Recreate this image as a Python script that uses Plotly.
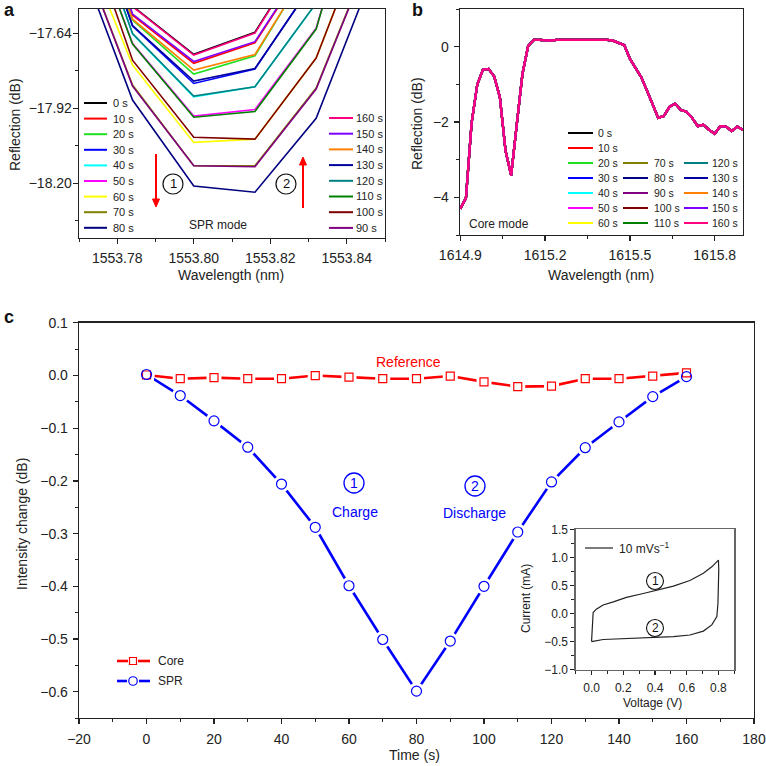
import plotly.graph_objects as go

# ---------------- data ----------------
TIMES = ["0 s", "10 s", "20 s", "30 s", "40 s", "50 s", "60 s", "70 s", "80 s",
         "90 s", "100 s", "110 s", "120 s", "130 s", "140 s", "150 s", "160 s"]
COLORS = ["#000000", "#ff0000", "#1fe01f", "#0000ff", "#00ffff", "#ff00ff", "#ffff00",
          "#808000", "#000080", "#800080", "#800000", "#008000", "#008080", "#0000a0",
          "#ff8000", "#8000ff", "#ff0080"]

# panel a: SPR mode (wavelength nm, reflection dB)
WL_A = [1553.768, 1553.784, 1553.800, 1553.816, 1553.832, 1553.848]
R_0S = [-16.844, -17.538, -17.718, -17.636, -17.273, -16.900]
R_10S = [-16.881, -17.572, -17.752, -17.675, -17.325, -16.956]
R_20S = [-16.918, -17.590, -17.792, -17.724, -17.348, -16.974]
R_30S = [-16.956, -17.613, -17.827, -17.773, -17.433, -17.060]
R_40S = [-16.993, -17.643, -17.877, -17.839, -17.528, -17.153]
R_50S = [-17.064, -17.678, -17.949, -17.924, -17.621, -16.840]
R_60S = [-17.195, -17.758, -18.047, -18.035, -17.732, -17.139]
R_70S = [-17.239, -17.833, -18.134, -18.134, -17.844, -17.280]
R_80S = [-17.280, -17.889, -18.210, -18.233, -17.957, -17.374]
R_90S = [-17.239, -17.837, -18.134, -18.138, -17.848, -17.284]
R_100S = [-17.083, -17.740, -18.028, -18.035, -17.732, -17.142]
R_110S = [-17.064, -17.680, -17.953, -17.932, -17.624, -16.844]
R_120S = [-16.993, -17.641, -17.874, -17.839, -17.527, -17.153]
R_130S = [-16.956, -17.611, -17.818, -17.771, -17.437, -17.060]
R_140S = [-16.918, -17.587, -17.777, -17.719, -17.351, -16.974]
R_150S = [-16.881, -17.568, -17.745, -17.671, -17.321, -16.956]
R_160S = [-16.844, -17.540, -17.721, -17.639, -17.277, -16.900]
REFL_A = [R_0S, R_10S, R_20S, R_30S, R_40S, R_50S, R_60S, R_70S, R_80S,
          R_90S, R_100S, R_110S, R_120S, R_130S, R_140S, R_150S, R_160S]

# panel b: core mode (all time steps overlap)
WL_B = [1614.90, 1614.92, 1614.94, 1614.96, 1614.98, 1615.00, 1615.02, 1615.04, 1615.06,
        1615.08, 1615.10, 1615.12, 1615.14, 1615.16, 1615.18, 1615.20, 1615.22, 1615.24,
        1615.26, 1615.28, 1615.30, 1615.32, 1615.34, 1615.36, 1615.38, 1615.40, 1615.42,
        1615.44, 1615.46, 1615.48, 1615.50, 1615.52, 1615.54, 1615.56, 1615.58, 1615.60,
        1615.62, 1615.64, 1615.66, 1615.68, 1615.70, 1615.72, 1615.74, 1615.76, 1615.78,
        1615.80, 1615.82, 1615.84, 1615.86, 1615.88, 1615.90]
REFL_B = [-4.30, -4.02, -2.03, -1.01, -0.61, -0.59, -0.79, -1.34, -2.76,
          -3.42, -2.05, -0.72, 0.02, 0.18, 0.18, 0.17, 0.16, 0.18,
          0.18, 0.18, 0.17, 0.18, 0.19, 0.18, 0.18, 0.18, 0.18,
          0.16, 0.11, 0.04, -0.32, -0.57, -0.81, -1.16, -1.51, -1.89,
          -1.84, -1.60, -1.51, -1.68, -1.73, -1.89, -2.11, -2.07, -2.21,
          -2.31, -2.11, -2.12, -2.24, -2.12, -2.21]

# panel c: intensity change vs time
T_C = [0, 10, 20, 30, 40, 50, 60, 70, 80, 90, 100, 110, 120, 130, 140, 150, 160]
CORE_C = [0.001, -0.006, -0.004, -0.006, -0.006, 0.000, -0.003, -0.006, -0.006,
          -0.001, -0.012, -0.021, -0.020, -0.006, -0.006, -0.001, 0.005]
SPR_C = [0.002, -0.038, -0.086, -0.136, -0.206, -0.288, -0.399, -0.501, -0.599,
         -0.504, -0.400, -0.297, -0.202, -0.137, -0.088, -0.040, -0.002]

# inset: cyclic voltammogram
V_CV = [0.000, 0.004, 0.010, 0.030, 0.073, 0.137, 0.220, 0.326, 0.410, 0.516, 0.620,
        0.705, 0.758, 0.800, 0.802, 0.801, 0.797, 0.790, 0.758, 0.705, 0.620, 0.516,
        0.410, 0.220, 0.073, 0.000]
I_CV = [-0.497, -0.110, 0.020, 0.080, 0.155, 0.210, 0.290, 0.360, 0.420, 0.490, 0.590,
        0.720, 0.835, 0.955, 0.780, 0.480, 0.185, -0.050, -0.200, -0.310, -0.380, -0.410,
        -0.420, -0.440, -0.460, -0.497]

# ---------------- layout helpers ----------------
W = H = 766
FONT = "Liberation Sans, Arial, Helvetica, sans-serif"
INK = "#222222"


def px(x):
    return x / W


def py(y):
    return 1 - y / H


ann = []
shapes = []


def text(x, y, s, size=14, color=INK, xanchor="center", yanchor="middle", bold=False, angle=0):
    if bold:
        s = "<b>" + s + "</b>"
    ann.append(dict(x=px(x), y=py(y), xref="paper", yref="paper", text=s, showarrow=False,
                    font=dict(family=FONT, size=size, color=color), xanchor=xanchor,
                    yanchor=yanchor, textangle=angle, borderpad=0))


def hline(x0, x1, y, color, width):
    shapes.append(dict(type="line", xref="paper", yref="paper", x0=px(x0), x1=px(x1),
                       y0=py(y), y1=py(y), line=dict(color=color, width=width)))


def vline(x, y0, y1, color, width):
    shapes.append(dict(type="line", xref="paper", yref="paper", x0=px(x), x1=px(x),
                       y0=py(y0), y1=py(y1), line=dict(color=color, width=width)))


def circle(x, y, d, color, width=1.2, kind="circle"):
    shapes.append(dict(type=kind, xref="paper", yref="paper", xsizemode="pixel", ysizemode="pixel",
                       xanchor=px(x), yanchor=py(y), x0=-d / 2, x1=d / 2, y0=-d / 2, y1=d / 2,
                       line=dict(color=color, width=width), fillcolor="white"))


def arrow(x, yhead, ytail, color):
    # shaft + triangular head, all in paper coordinates
    sgn = 1 if yhead > ytail else -1
    hl, hw = 8, 3.5
    vline(x, ytail, yhead - sgn * hl, color, 2)
    path = "M {:.5f},{:.5f} L {:.5f},{:.5f} L {:.5f},{:.5f} Z".format(
        px(x), py(yhead), px(x - hw), py(yhead - sgn * hl), px(x + hw), py(yhead - sgn * hl))
    shapes.append(dict(type="path", xref="paper", yref="paper", path=path,
                       fillcolor=color, line=dict(color=color, width=1)))


fig = go.Figure()

# panel a traces
for name, col, ys in zip(TIMES, COLORS, REFL_A):
    fig.add_trace(go.Scatter(x=WL_A, y=ys, mode="lines", name=name,
                             line=dict(color=col, width=1.6), xaxis="x", yaxis="y"))
# panel b traces
for name, col in zip(TIMES, COLORS):
    fig.add_trace(go.Scatter(x=WL_B, y=REFL_B, mode="lines", name=name,
                             line=dict(color=col, width=2.2), xaxis="x2", yaxis="y2"))
# panel c traces
RED, BLUE = "#ff0000", "#0000ff"
fig.add_trace(go.Scatter(x=T_C, y=CORE_C, mode="lines", line=dict(color=RED, width=2.6),
                         xaxis="x3", yaxis="y3"))
fig.add_trace(go.Scatter(x=T_C, y=SPR_C, mode="lines", line=dict(color=BLUE, width=2.6),
                         xaxis="x3", yaxis="y3"))
fig.add_trace(go.Scatter(x=T_C, y=CORE_C, mode="markers",
                         marker=dict(symbol="square", size=15, color="white"),
                         xaxis="x3", yaxis="y3"))
fig.add_trace(go.Scatter(x=T_C, y=SPR_C, mode="markers",
                         marker=dict(symbol="circle", size=17, color="white"),
                         xaxis="x3", yaxis="y3"))
fig.add_trace(go.Scatter(x=T_C, y=CORE_C, mode="markers", name="Core",
                         marker=dict(symbol="square-open", size=8, color=RED, line=dict(width=1.2)),
                         xaxis="x3", yaxis="y3"))
fig.add_trace(go.Scatter(x=T_C, y=SPR_C, mode="markers", name="SPR",
                         marker=dict(symbol="circle-open", size=10, color=BLUE, line=dict(width=1.2)),
                         xaxis="x3", yaxis="y3"))
# inset
fig.add_trace(go.Scatter(x=V_CV, y=I_CV, mode="lines", line=dict(color=INK, width=1.2),
                         xaxis="x4", yaxis="y4"))


def axis(domain, rng, dtick, tick0, minor_dtick, fmt=None, size=14, anchor=None, linecolor=INK,
         ticklen=5, standoff=0):
    d = dict(domain=domain, range=rng, dtick=dtick, tick0=tick0, tickmode="linear",
             showline=True, mirror=True, linecolor=linecolor, linewidth=1.3,
             ticks="outside", ticklen=ticklen, tickwidth=1.2, tickcolor=INK,
             showgrid=False, zeroline=False, tickfont=dict(family=FONT, size=size, color=INK),
             minor=dict(ticks="outside", ticklen=3, tickwidth=1, tickcolor=INK,
                        dtick=minor_dtick, tick0=tick0, showgrid=False),
             anchor=anchor, fixedrange=True, automargin=False, ticklabelstandoff=standoff)
    if fmt:
        d["tickformat"] = fmt
    return d


layout = dict(
    width=W, height=H, margin=dict(l=0, r=0, t=0, b=0, autoexpand=False), showlegend=False,
    paper_bgcolor="white", plot_bgcolor="white", font=dict(family=FONT, color=INK),
    hovermode=False,
    xaxis=axis([px(79), px(385)], [1553.77, 1553.85], 0.02, 1553.78, 0.01, ".2f", anchor="y",
               standoff=2),
    yaxis=axis([py(238), py(9)], [-18.404, -17.549], 0.28, -17.64, 0.14, ".2f", anchor="x",
               standoff=-2),
    xaxis2=axis([px(460), px(743)], [1614.899, 1615.9], 0.3, 1614.9, 0.15, ".1f", anchor="y2",
                standoff=2),
    yaxis2=axis([py(235), py(9)], [-5, 1], 2, 0, 1, anchor="x2", standoff=2),
    xaxis3=axis([px(79), px(754)], [-20, 180], 20, 0, 10, anchor="y3", standoff=3),
    yaxis3=axis([py(718), py(322.7)], [-0.65, 0.1003], 0.1, 0, 0.05, ".1f", anchor="x3",
                standoff=2),
    xaxis4=axis([px(575.7), px(734.3)], [-0.1, 0.9], 0.2, 0, 0.1, ".1f", size=12, anchor="y4",
                linecolor="#666666", ticklen=4, standoff=2),
    yaxis4=axis([py(670), py(529.3)], [-1.003, 1.503], 0.5, 0, 0.25, ".1f", size=12, anchor="x4",
                linecolor="#666666", ticklen=4),
)

# ---------- panel labels ----------
text(3, 10, "a", 18, "#111", xanchor="left", bold=True)
text(411, 10, "b", 18, "#111", xanchor="left", bold=True)
text(3, 317, "c", 18, "#111", xanchor="left", bold=True)

# ---------- axis titles ----------
text(231, 275, "Wavelength (nm)")
text(15, 125, "Reflection (dB)", angle=-90)
text(601, 275, "Wavelength (nm)")
text(417, 124, "Reflection (dB)", angle=-90)
text(414, 755, "Time (s)")
text(22, 524, "Intensity change (dB)", angle=-90)
text(652, 703, "Voltage (V)", 12)
text(526, 599, "Current (mA)", 12, angle=-90)

# ---------- panel a legend & marks ----------
for i in range(9):
    y = 103 + 15.6 * i
    hline(84, 107, y, COLORS[i], 2)
    text(112, y, TIMES[i], 11, xanchor="left")
for k, i in enumerate(range(16, 8, -1)):
    y = 118 + 15.7 * k
    hline(329, 353, y, COLORS[i], 2)
    text(355, y, TIMES[i], 11, xanchor="left")
arrow(156, 207, 154, RED)
arrow(303, 157, 208, RED)
circle(173, 184, 20, "#111", 1.2)
text(173, 184, "1", 13, "#111")
circle(286, 184, 20, "#111", 1.2)
text(286, 184, "2", 13, "#111")
text(218, 225, "SPR mode", 12)

# ---------- panel b legend ----------
for i in range(17):
    if i < 7:
        row, x0, x1, xt = i, 568, 593, 597
    elif i < 12:
        row, x0, x1, xt = i - 5, 623, 648, 653
    else:
        row, x0, x1, xt = i - 10, 684, 708, 711
    y = 133 + 15 * row
    hline(x0, x1, y, COLORS[i], 2)
    text(xt, y, TIMES[i], 10.5, xanchor="left")
text(499, 224, "Core mode", 12)

# ---------- panel c annotations ----------
text(409, 362, "Reference", 14, RED)
circle(354, 483, 20, BLUE, 1.3)
text(354, 483, "1", 14, BLUE)
text(355, 512, "Charge", 14, BLUE)
circle(475, 486, 20, BLUE, 1.3)
text(475, 486, "2", 14, BLUE)
text(474, 513, "Discharge", 14, BLUE)
# legend of panel c
hline(117, 128, 661, RED, 2.6)
hline(138, 150, 661, RED, 2.6)
circle(133, 661, 7, RED, 1.2, kind="rect")
text(157, 661, "Core", 12, xanchor="left")
hline(117, 127, 681, BLUE, 2.6)
hline(139, 150, 681, BLUE, 2.6)
circle(133, 681, 8.5, BLUE, 1.2)
text(157, 681, "SPR", 12, xanchor="left")

# ---------- inset annotations ----------
hline(585, 613, 548, "#333333", 1.3)
text(618, 548, "10 mVs<sup>−1</sup>", 12, xanchor="left")
circle(655, 581, 17, "#111", 1.1)
text(655, 581, "1", 12, "#111")
circle(655, 628, 17, "#111", 1.1)
text(655, 628, "2", 12, "#111")

layout["annotations"] = ann
layout["shapes"] = shapes
fig.update_layout(**layout)
fig.write_html("out.html", config={"displayModeBar": False, "staticPlot": True},
               post_script="document.body.style.margin='0';document.body.style.padding='0';"
                           "document.body.style.overflow='hidden';")
